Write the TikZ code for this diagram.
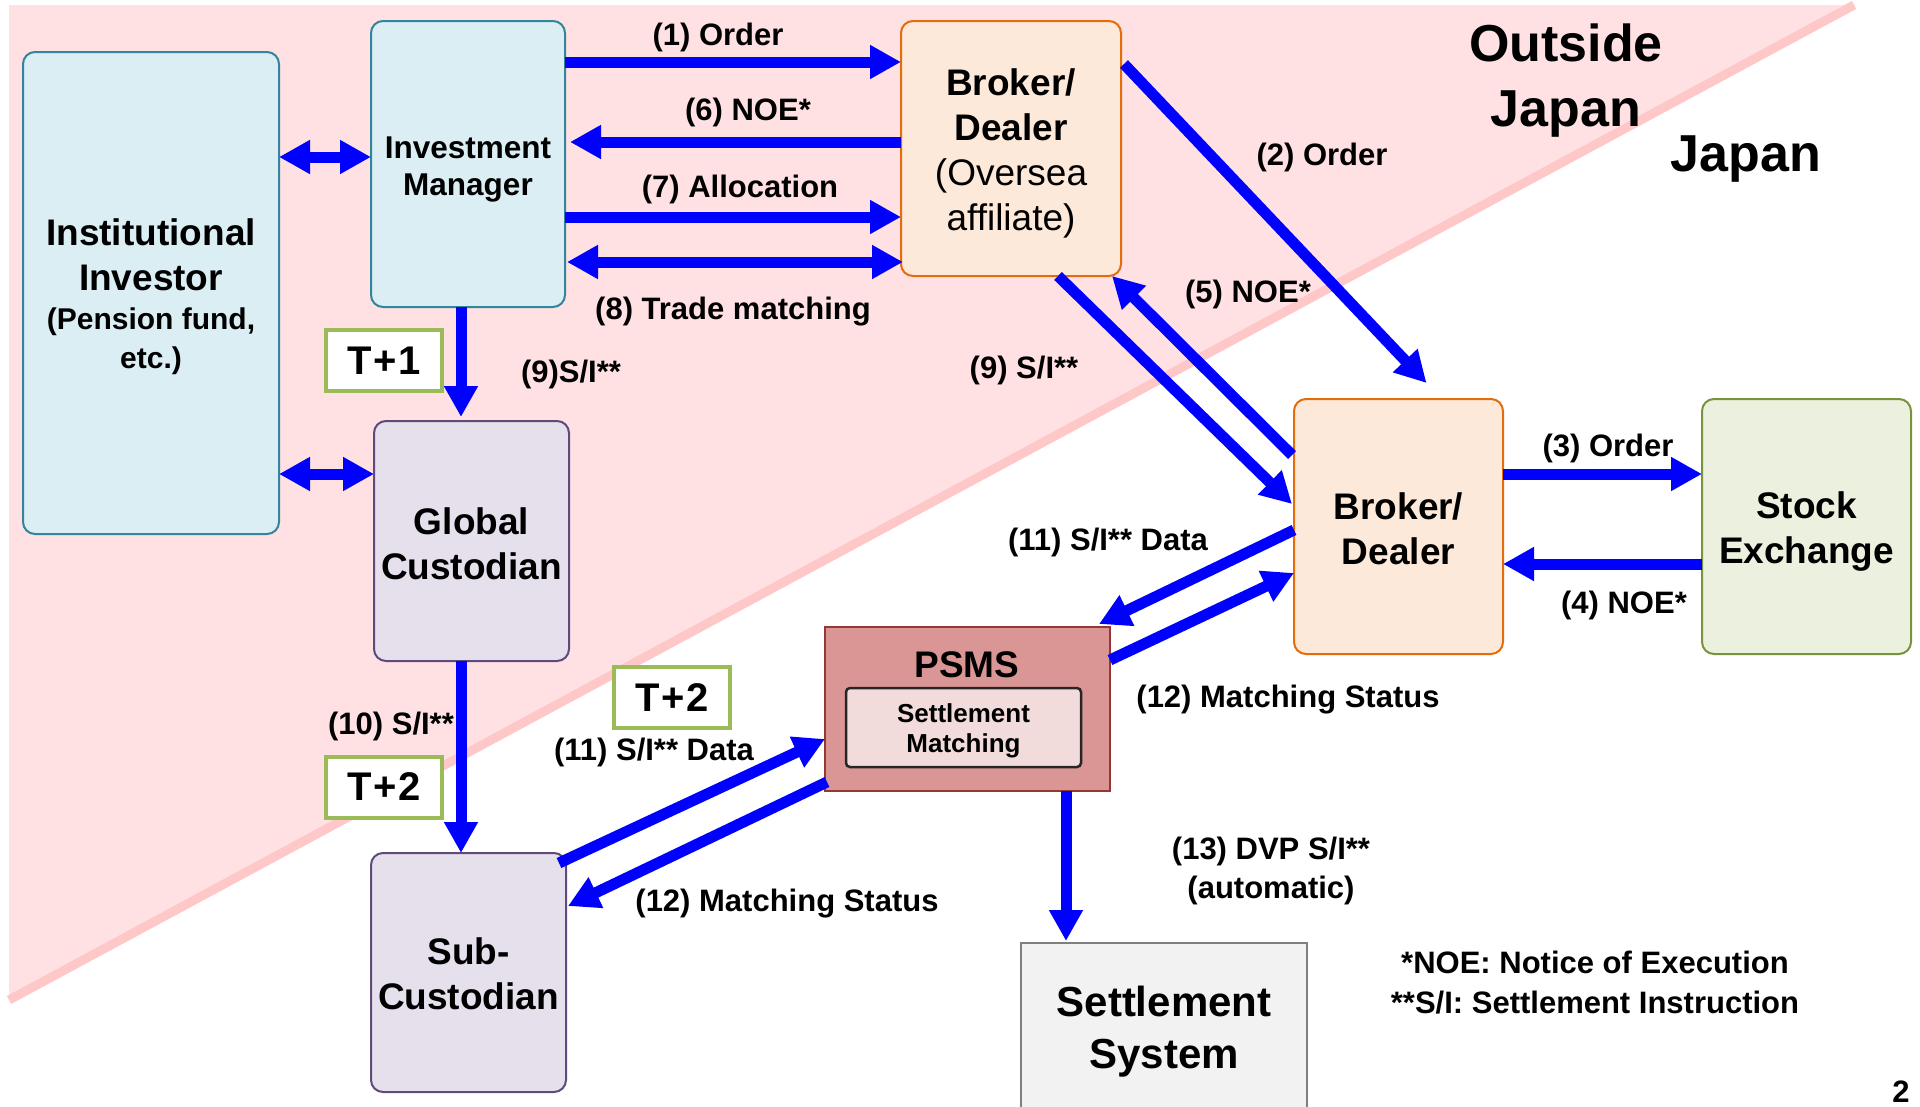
\documentclass[tikz,border=0pt]{standalone}
\usepackage{fontspec}
\setmainfont{Liberation Sans}
\usetikzlibrary{arrows.meta,calc}
\definecolor{pinkbg}{RGB}{255,225,228}
\definecolor{pinkline}{RGB}{255,200,200}
\definecolor{blueF}{RGB}{219,238,244}
\definecolor{blueD}{RGB}{49,133,156}
\definecolor{lavF}{RGB}{229,224,236}
\definecolor{lavD}{RGB}{96,74,123}
\definecolor{peachF}{RGB}{253,233,217}
\definecolor{peachD}{RGB}{228,108,10}
\definecolor{greenF}{RGB}{235,241,222}
\definecolor{greenD}{RGB}{119,147,60}
\definecolor{psmsF}{RGB}{217,150,148}
\definecolor{psmsD}{RGB}{149,55,53}
\definecolor{smF}{RGB}{242,220,219}
\definecolor{ssF}{RGB}{242,242,242}
\definecolor{ssD}{RGB}{127,127,127}
\definecolor{tD}{RGB}{155,187,89}
\definecolor{arrB}{RGB}{0,0,255}
\newcommand{\fsz}[2]{\fontsize{#1}{#2}\selectfont}
\begin{document}
\begin{tikzpicture}[x=1pt,y=-1pt,
  box/.style={draw, line width=2pt, rounded corners=12pt, inner sep=0pt, outer sep=0pt},
  bluebox/.style={box, draw=blueD, fill=blueF},
  lavbox/.style={box, draw=lavD, fill=lavF},
  peachbox/.style={box, draw=peachD, fill=peachF},
  greenbox/.style={box, draw=greenD, fill=greenF},
  btxt/.style={align=center, inner sep=0pt, font={\bfseries\fsz{37}{45}}},
  tbox/.style={draw=tD, line width=4pt, fill=white, minimum width=116pt, minimum height=61pt, inner sep=0pt, outer sep=0pt, font={\bfseries\fsz{40}{48}}},
  lbl/.style={font={\bfseries\fsz{31}{37}}, inner sep=0pt, align=center},
  arr/.style={draw=arrB, line width=11pt, -{Triangle[length=31pt,width=32pt]}},
  darr/.style={draw=arrB, line width=11pt, {Triangle[length=31pt,width=32pt]}-{Triangle[length=31pt,width=32pt]}}
]
\useasboundingbox (0,0) rectangle (1920,1106);
\fill[white] (0,0) rectangle (1920,1106);
% background regions
\fill[pinkbg] (9,5) -- (1854,5) -- (9,1000) -- cycle;
\draw[pinkline, line width=9pt] (9,1000) -- (1854,5);

% region titles
\node[lbl, font={\bfseries\fsz{52}{64.5}}] (outside) at (1566,80.5) {Outside\\Japan};
\node[lbl, font={\bfseries\fsz{52}{64.5}}] (japan) at (1746,159) {Japan};

% boxes
\node[bluebox, minimum width=256pt, minimum height=482pt] (ii) at (151,293) {};
\node[btxt] (iit) at ([yshift=-4pt]ii.center)
  {Institutional\\Investor\\[-6pt]{\fsz{30}{38}(Pension fund,}\\[-6pt]{\fsz{30}{38}etc.)}};
\node[bluebox, minimum width=194pt, minimum height=286pt] (im) at (468,164) {};
\node[btxt, font={\bfseries\fsz{31.5}{37}}] (imt) at ([yshift=-5pt]im.center) {Investment\\Manager};
\node[lavbox, minimum width=195pt, minimum height=240pt] (gc) at (471.5,541) {};
\node[btxt] (gct) at ([yshift=-3pt]gc.center) {Global\\Custodian};
\node[lavbox, minimum width=195pt, minimum height=239pt] (sub) at (468.5,972.5) {};
\node[btxt] (subt) at ([yshift=-1pt]sub.center) {Sub-\\Custodian};
\node[peachbox, minimum width=220pt, minimum height=255pt] (bd1) at (1011,148.5) {};
\node[btxt, font={\fsz{37}{45}}] (bd1t) at ([yshift=-5pt]bd1.center)
  {\textbf{Broker/}\\\textbf{Dealer}\\(Oversea\\affiliate)};
\node[peachbox, minimum width=209pt, minimum height=255pt] (bd2) at (1398.5,526.5) {};
\node[btxt] (bd2t) at ([yshift=-2pt]bd2.center) {Broker/\\Dealer};
\node[greenbox, minimum width=209pt, minimum height=255pt] (se) at (1806.5,526.5) {};
\node[btxt] (set) at ([yshift=-5pt]se.center) {Stock\\Exchange};
\node[draw=psmsD, fill=psmsF, line width=2pt, minimum width=285pt, minimum height=164pt, inner sep=0pt, outer sep=0pt] (psms) at (967.5,709) {};
\node[lbl, font={\bfseries\fsz{37}{45}}] (psmst) at (967,665) {PSMS};
\node[draw=black!85, fill=smF, line width=2.5pt, rounded corners=4pt, minimum width=235pt, minimum height=79pt, inner sep=0pt] (sm) at (963.5,727.5) {};
\node[btxt, font={\bfseries\fsz{26}{30}}] (smt) at ([yshift=-3pt]sm.center) {Settlement\\Matching};
\node[draw=ssD, fill=ssF, line width=2pt, minimum width=286pt, minimum height=177pt, inner sep=0pt, outer sep=0pt, align=center, font={\bfseries\fsz{42}{52}}] (ss) at (1164,1031.5) {Settlement\\System};

% T boxes
\node[tbox] (t1) at (384,360.5) {T\kern1.5pt+\kern2pt1};
\node[tbox] (t2a) at (384,787) {T\kern1.5pt+\kern2pt2};
\node[tbox] (t2b) at (672,697.5) {T\kern1.5pt+\kern2pt2};

% connectors
\draw[darr] (ii.east |- 0,157) -- (im.west |- 0,157);
\draw[darr] (ii.east |- 0,474) -- (gc.west |- 0,474);
\draw[arr] (im.east |- 0,62) -- (bd1.west |- 0,62);
\draw[arr] (bd1.west |- 0,142) -- ([xshift=5pt]im.east |- 0,142);
\draw[arr] (im.east |- 0,217) -- (bd1.west |- 0,217);
\draw[darr] ([xshift=2pt]im.east |- 0,262) -- ([xshift=2pt]bd1.west |- 0,262);
\draw[arr] (im.south -| 461,0) -- ([yshift=4pt]gc.north -| 461,0);
\draw[arr] (gc.south -| 461,0) -- (sub.north -| 461,0);
\draw[arr] ([xshift=3pt]bd1.east |- 0,64) -- ([shift={(28,-16)}]bd2.north);
\draw[arr] ([xshift=-2pt]bd2.west |- 0,455) -- ([xshift=-9pt]bd1.south east);
\draw[arr] (bd1.south -| 1058,0) -- ([xshift=-2pt]bd2.west |- 0,504);
\draw[arr] (bd2.east |- 0,474) -- (se.west |- 0,474);
\draw[arr] (se.west |- 0,564) -- (bd2.east |- 0,564);
\draw[arr] (bd2.west |- 0,530) -- ([shift={(-11,-3)}]psms.north east);
\draw[arr] (psms.east |- 0,660) -- (bd2.west |- 0,573);
\draw[arr] ([shift={(-7,10)}]sub.north east) -- (psms.west |- 0,739);
\draw[arr] ([xshift=2pt]psms.west |- 0,782) -- ([xshift=2pt]sub.east |- 0,906);
\draw[arr] (psms.south -| 1066,0) -- ([yshift=2pt]ss.north -| 1066,0);

% connector labels
\node[lbl] (l1) at (718,37) {(1) Order};
\node[lbl] (l6) at (748,112) {(6) NOE*};
\node[lbl] (l7) at (740,189) {(7) Allocation};
\node[lbl] (l8) at (733,312) {(8) Trade matching};
\node[lbl] (l9a) at (571,374) {(9)S/I**};
\node[lbl] (l2) at (1322,157) {(2) Order};
\node[lbl] (l5) at (1248,294) {(5) NOE*};
\node[lbl] (l9b) at (1024,370) {(9) S/I**};
\node[lbl] (l3) at (1608,448) {(3) Order};
\node[lbl] (l4) at (1624,605) {(4) NOE*};
\node[lbl] (l11b) at (1108,542) {(11) S/I** Data};
\node[lbl] (l12b) at (1288,700) {(12) Matching Status};
\node[lbl, font={\bfseries\fsz{31}{39}}] (l13) at (1271,871) {(13) DVP S/I**\\(automatic)};
\node[lbl] (l10) at (391,726) {(10) S/I**};
\node[lbl] (l11a) at (654,752) {(11) S/I** Data};
\node[lbl] (l12a) at (787,904) {(12) Matching Status};
\node[lbl, font={\bfseries\fsz{31}{40}}] (notes) at (1595,983) {*NOE: Notice of Execution\\**S/I: Settlement Instruction};
\node[lbl] (pg) at (1901,1092) {2};
\end{tikzpicture}
\end{document}
